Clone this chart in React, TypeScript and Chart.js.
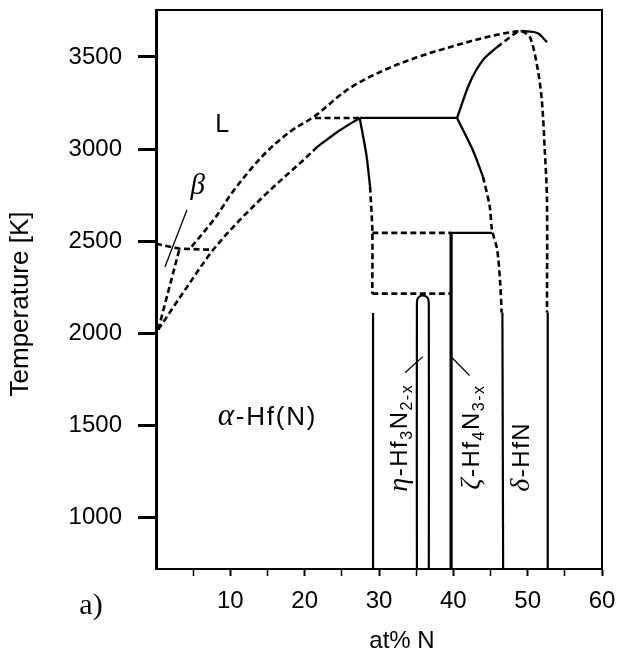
import React, { useEffect, useRef } from 'react';
import { Chart, registerables } from 'chart.js';

Chart.register(...registerables);

// ---------- data (x = at% N, y = temperature K) ----------
const xTickLabels = [10, 20, 30, 40, 50, 60];
const xMinorTicks = [5, 15, 25, 35, 45, 55];
const yTickLabels = [1000, 1500, 2000, 2500, 3000, 3500];

const liquidus = [[4.8, 2470], [8.2, 2640], [10.0, 2750], [14.4, 2965], [18.0, 3093], [21.4, 3180], [25.7, 3321], [30.5, 3425], [35.1, 3498], [39.6, 3554], [44.0, 3603], [48.0, 3636], [49.2, 3641]];
const liquidusRight = [[49.2, 3641], [51.3, 3630], [52.6, 3581]];
const betaEutectoid = [[0, 2486], [3.2, 2459], [7.7, 2453]];
const alphaBetaBoundary = [[0.3, 2020], [3.2, 2464]];
const alphaSolidusDashed = [[0.3, 2020], [4.2, 2253], [7.7, 2453], [14.0, 2725], [20.3, 2958], [21.7, 3012]];
const alphaSolidusSolid = [[21.7, 3012], [24.5, 3095], [27.4, 3169]];
const peritecticDashed = [[21.4, 3169], [27.4, 3169]];
const peritecticSolid = [[27.4, 3169], [40.5, 3169]];
const etaLeftSolid = [[27.4, 3169], [28.3, 2969], [28.8, 2795]];
const etaLeftDashed = [[28.8, 2795], [29.1, 2562], [29.1, 2215]];
const etaLeftLow = [[29.2, 2110], [29.2, 720]];
const iso2545Dashed = [[29.1, 2545], [39.7, 2545]];
const iso2545Solid = [[39.7, 2545], [45.2, 2545]];
const iso2215 = [[29.1, 2215], [39.7, 2215]];
const zetaLine = [[39.7, 2545], [39.7, 720]];
const etaLoop = [[35.1, 720], [35.1, 2160], [35.25, 2192], [35.9, 2205], [36.55, 2192], [36.7, 2160], [36.7, 720]];
const zetaDeltaSolid = [[40.5, 3169], [42.6, 2996], [44.0, 2849]];
const zetaDeltaDashed = [[44.0, 2849], [44.9, 2687], [45.2, 2562], [45.9, 2453], [46.3, 2274], [46.5, 2112]];
const zetaDeltaLow = [[46.6, 2112], [46.7, 720]];
const deltaLeftSolid = [[40.5, 3169], [42.2, 3359], [44.0, 3484], [45.9, 3554]];
const deltaLeftDashed = [[45.9, 3554], [48.6, 3636], [49.2, 3641]];
const deltaRightDashed = [[49.2, 3641], [50.3, 3608], [51.3, 3446], [51.9, 3267], [52.3, 2996], [52.6, 2724], [52.6, 2112]];
const deltaRightLow = [[52.7, 2112], [52.7, 720]];
const betaLeader = [[4.17, 2670], [1.21, 2361]];
const etaLeader = [[33.5, 1786], [35.9, 1873]];
const zetaLeader = [[39.8, 1868], [42.2, 1770]];

// ---------- styling ----------
const SANS = "'Liberation Sans', Arial, sans-serif";
const SERIF = "'Liberation Serif', 'Times New Roman', serif";
const DASH = [6, 3.5];

type Pt = number[];
const line = (pts: Pt[], dashed: boolean, width = 2.3, tension = 0.3, monotone = false) => ({
  data: pts.map((p) => ({ x: p[0], y: p[1] })),
  showLine: true,
  pointRadius: 0,
  borderColor: '#000',
  backgroundColor: '#000',
  borderWidth: dashed ? width + 0.3 : width,
  borderDash: dashed ? DASH : [],
  tension,
  cubicInterpolationMode: monotone ? 'monotone' : 'default',
  fill: false,
});

type Run = { t: string; font: string; dy?: number };
const drawRuns = (ctx: CanvasRenderingContext2D, runs: Run[], x: number, y: number) => {
  let cx = x;
  for (const r of runs) {
    ctx.font = r.font;
    ctx.fillText(r.t, cx, y + (r.dy || 0));
    cx += ctx.measureText(r.t).width;
  }
};

const sub = (t: string): Run => ({ t, font: `16px ${SANS}`, dy: 5 });
const big = (t: string): Run => ({ t, font: `24px ${SANS}` });
const greek = (t: string): Run => ({ t, font: `italic 28px ${SERIF}` });

const rotatedLabels = [
  { x: 33.8, y: 1140, runs: [greek('η'), big('-Hf'), sub('3'), big('N'), sub('2-x')] },
  { x: 43.4, y: 1150, runs: [greek('ζ'), big('-Hf'), sub('4'), big('N'), sub('3-x')] },
  { x: 50.15, y: 1140, runs: [greek('δ'), big('-HfN')] },
];

const annotate = {
  id: 'annotate',
  afterDraw(chart: any) {
    const { ctx, chartArea: ca, scales } = chart;
    const xs = scales.x;
    const ys = scales.y;
    ctx.save();
    ctx.strokeStyle = '#000';
    ctx.lineWidth = 2;
    ctx.beginPath();
    ctx.moveTo(ca.left, ca.top);
    ctx.lineTo(ca.right, ca.top);
    ctx.lineTo(ca.right, ca.bottom);
    ctx.stroke();

    ctx.fillStyle = '#000';

    // L
    ctx.font = `25px ${SANS}`;
    ctx.textAlign = 'center';
    ctx.textBaseline = 'middle';
    ctx.fillText('L', xs.getPixelForValue(8.9), ys.getPixelForValue(3131));
    // beta
    ctx.font = `italic 29px ${SERIF}`;
    ctx.fillText('β', xs.getPixelForValue(5.6), ys.getPixelForValue(2800));

    // alpha-Hf(N)
    ctx.textAlign = 'left';
    ctx.textBaseline = 'alphabetic';
    (ctx as any).letterSpacing = '1.8px';
    drawRuns(ctx, [{ t: 'α', font: `italic 31px ${SERIF}` }, { t: '-Hf(N)', font: `26px ${SANS}` }], xs.getPixelForValue(8.3), ys.getPixelForValue(1504));

    // rotated phase labels
    for (const l of rotatedLabels) {
      ctx.save();
      ctx.translate(xs.getPixelForValue(l.x), ys.getPixelForValue(l.y));
      ctx.rotate(-Math.PI / 2);
      (ctx as any).letterSpacing = '1.5px';
      drawRuns(ctx, l.runs, 0, 0);
      ctx.restore();
    }
    (ctx as any).letterSpacing = '0px';

    // axis titles
    ctx.font = `24px ${SANS}`;
    ctx.textAlign = 'center';
    ctx.textBaseline = 'middle';
    ctx.fillText('at% N', 402, 641);
    ctx.save();
    ctx.translate(21, 304);
    ctx.rotate(-Math.PI / 2);
    ctx.font = `26px ${SANS}`;
    ctx.fillText('Temperature [K]', 0, 0);
    ctx.restore();

    // panel letter
    ctx.font = `30px ${SERIF}`;
    ctx.fillText('a)', 91, 606);
    ctx.restore();
  },
};

export default function App() {
  const ref = useRef<HTMLCanvasElement | null>(null);
  useEffect(() => {
    if (!ref.current) return;
    const datasets = [
      line(liquidus, true, 2.3, 0, true),
      line(liquidusRight, false),
      line(betaEutectoid, true, 2.3, 0),
      line(alphaBetaBoundary, true, 2.3, 0),
      line(alphaSolidusDashed, true, 2.3, 0, true),
      line(alphaSolidusSolid, false, 2.3, 0, true),
      line(peritecticDashed, true, 2.3, 0),
      line(peritecticSolid, false, 2.2, 0),
      line(etaLeftSolid, false),
      line(etaLeftDashed, true),
      line(etaLeftLow, false, 2.2, 0),
      line(iso2545Dashed, true, 2.3, 0),
      line(iso2545Solid, false, 2.2, 0),
      line(iso2215, true, 2.3, 0),
      line(zetaLine, false, 3.2, 0),
      line(etaLoop, false, 2.2, 0.3),
      line(zetaDeltaSolid, false),
      line(zetaDeltaDashed, true),
      line(zetaDeltaLow, false, 2.2, 0),
      line(deltaLeftSolid, false),
      line(deltaLeftDashed, true),
      line(deltaRightDashed, true),
      line(deltaRightLow, false, 2.2, 0),
      line(betaLeader, false, 1.3, 0),
      line(etaLeader, false, 1.3, 0),
      line(zetaLeader, false, 1.3, 0),
    ];
    const chart = new Chart(ref.current, {
      type: 'scatter',
      data: { datasets },
      plugins: [annotate],
      options: {
        animation: false,
        responsive: false,
        devicePixelRatio: 1,
        layout: { padding: { left: 0, right: 20, top: 10, bottom: 0 } },
        plugins: { legend: { display: false }, tooltip: { enabled: false } },
        scales: {
          x: {
            type: 'linear',
            min: 0,
            max: 60,
            afterBuildTicks: (s: any) => {
              s.ticks = [...xMinorTicks, ...xTickLabels].sort((a, b) => a - b).map((v) => ({ value: v }));
            },
            afterFit: (s: any) => {
              s.height = 85;
              s.paddingLeft = 0;
              s.paddingRight = 0;
            },
            ticks: {
              autoSkip: false,
              maxRotation: 0,
              padding: 11,
              color: '#000',
              font: { size: 24, family: SANS },
              callback: (v: any) => (xTickLabels.includes(Number(v)) ? String(v) : ''),
            },
            grid: {
              drawOnChartArea: false,
              tickLength: 7,
              tickColor: '#000',
              tickWidth: (c: any) => (c.tick && c.tick.value % 10 === 0 ? 2 : 1.5),
            },
            border: { color: '#000', width: 2 },
          },
          y: {
            type: 'linear',
            min: 720,
            max: 3755,
            afterBuildTicks: (s: any) => {
              s.ticks = yTickLabels.map((v) => ({ value: v }));
            },
            afterFit: (s: any) => {
              s.width = 156;
              s.paddingTop = 0;
              s.paddingBottom = 0;
            },
            ticks: {
              autoSkip: false,
              padding: 16,
              color: '#000',
              font: { size: 24, family: SANS },
              callback: (v: any) => String(v),
            },
            grid: { drawOnChartArea: false, tickLength: 18, tickColor: '#000', tickWidth: 3 },
            border: { color: '#000', width: 3 },
          },
        },
      },
    } as any);
    return () => chart.destroy();
  }, []);
  return (
    <div style={{ position: 'absolute', left: 0, top: 0, width: 622, height: 654, background: '#fff' }}>
      <canvas ref={ref} width={622} height={654} />
    </div>
  );
}
